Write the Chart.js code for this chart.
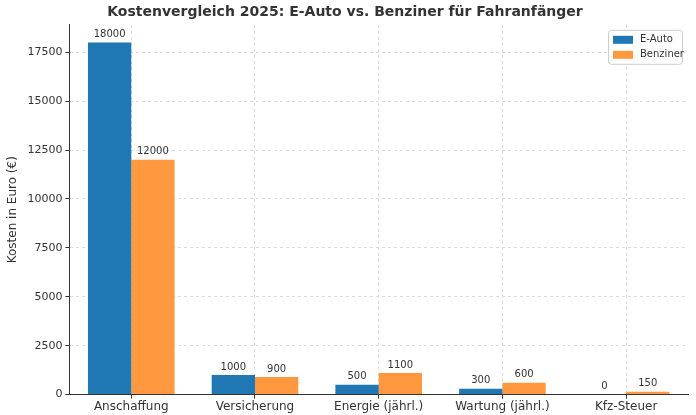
<!DOCTYPE html>
<html><head><meta charset="utf-8">
<script src="https://cdn.jsdelivr.net/npm/chart.js@4/dist/chart.umd.min.js"></script>
<style>html,body{margin:0;padding:0;background:#fff}#w{width:696px;height:415px}</style>
</head><body><div id="w"><canvas id="c"></canvas></div>
<script>
const categories=["Anschaffung","Versicherung","Energie (jährl.)","Wartung (jährl.)","Kfz-Steuer"];
const eAuto=[18000,1000,500,300,0];
const benziner=[12000,900,1100,600,150];
const yTicks=[0,2500,5000,7500,10000,12500,15000,17500];
const labelPlugin={id:'lbl',afterDatasetsDraw(ch){const ctx=ch.ctx;ctx.save();ctx.font='10px "DejaVu Sans"';ctx.fillStyle='#333';ctx.textAlign='center';ctx.textBaseline='bottom';
ch.data.datasets.forEach((ds,i)=>{ch.getDatasetMeta(i).data.forEach((b,j)=>{ctx.fillText(String(ds.data[j]),b.x,b.y-3);});});ctx.restore();}};
new Chart(document.getElementById('c'),{type:'bar',
data:{labels:categories,datasets:[
{label:'E-Auto',data:eAuto,backgroundColor:'#1f77b4',categoryPercentage:0.7,barPercentage:1},
{label:'Benziner',data:benziner,backgroundColor:'#ff983e',categoryPercentage:0.7,barPercentage:1}]},
options:{responsive:true,maintainAspectRatio:false,animation:false,
layout:{padding:{left:2,right:8,top:0,bottom:0}},
plugins:{title:{display:true,text:'Kostenvergleich 2025: E-Auto vs. Benziner für Fahranfänger',font:{family:'DejaVu Sans',size:14,weight:'bold'},color:'#333',padding:{top:4,bottom:4}},
legend:{display:false},tooltip:{enabled:false}},
scales:{x:{grid:{display:true,offset:false,color:'#ddd',tickLength:4,tickColor:'#333'},border:{display:true,color:'#333',dash:[3,3]},ticks:{color:'#333',padding:1,font:{family:'DejaVu Sans',size:12}}},
y:{min:0,max:18900,afterBuildTicks(a){a.ticks=yTicks.map(v=>({value:v}));},grid:{color:'#ddd',tickLength:4,tickColor:'#333'},border:{color:'#333',dash:[3,3]},
ticks:{color:'#333',callback:v=>String(v),font:{family:'DejaVu Sans',size:11}},title:{display:true,text:'Kosten in Euro (€)',color:'#333',font:{family:'DejaVu Sans',size:12}}}}},
plugins:[labelPlugin,{id:'leg',afterDraw(ch){const ctx=ch.ctx,a=ch.chartArea;const x=a.right-80,y=a.top+5;ctx.save();
ctx.fillStyle='rgba(255,255,255,0.85)';ctx.strokeStyle='#ccc';ctx.lineWidth=1;ctx.beginPath();ctx.roundRect(x+0.5,y+0.5,74,34,3);ctx.fill();ctx.stroke();
ctx.font='10px "DejaVu Sans"';ctx.textBaseline='middle';
[['E-Auto','#1f77b4'],['Benziner','#ff983e']].forEach((l,i)=>{const yy=y+10+i*15;ctx.fillStyle=l[1];ctx.fillRect(x+5,yy-4,20,8);ctx.fillStyle='#333';ctx.fillText(l[0],x+32,yy);});ctx.restore();}}]
});
</script></body></html>
